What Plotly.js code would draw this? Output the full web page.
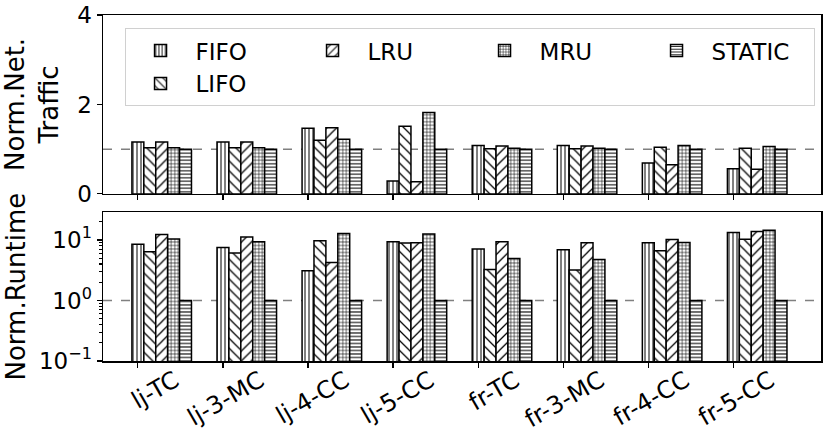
<!DOCTYPE html>
<html>
<head>
<meta charset="utf-8">
<script src="https://cdn.plot.ly/plotly-3.0.1.min.js"></script>
<style>html,body{margin:0;padding:0;background:#fff;}#chart{width:831px;height:442px;}</style>
</head>
<body>
<div id="chart"></div>
<script>
const categories = ['lj-TC','lj-3-MC','lj-4-CC','lj-5-CC','fr-TC','fr-3-MC','fr-4-CC','fr-5-CC'];
const policies = ['FIFO','LIFO','LRU','MRU','STATIC'];
const legendRanks = [1,5,2,3,4];

const trafficFIFO   = [1.16,1.16,1.47,0.29,1.08,1.08,0.69,0.56];
const trafficLIFO   = [1.03,1.03,1.20,1.51,1.01,1.01,1.04,1.02];
const trafficLRU    = [1.16,1.16,1.48,0.27,1.07,1.07,0.65,0.55];
const trafficMRU    = [1.03,1.03,1.22,1.82,1.02,1.02,1.08,1.06];
const trafficSTATIC = [1.00,1.00,1.00,1.00,1.00,1.00,1.00,1.00];

const runtimeFIFO   = [8.5,7.5,3.1,9.3,7.1,6.9,8.95,13.3];
const runtimeLIFO   = [6.4,6.1,9.7,8.9,3.25,3.2,6.6,10.3];
const runtimeLRU    = [12.3,11.2,4.25,8.95,9.3,8.95,10.2,13.8];
const runtimeMRU    = [10.4,9.3,12.8,12.5,4.95,4.76,9.1,14.4];
const runtimeSTATIC = [1,1,1,1,1,1,1,1];

const yTickTop = [0,2,4];
const yTickBot = [0.1,1,10];
const yTickBotText = ['10<sup>\u22121</sup>','10<sup>0</sup>','10<sup>1</sup>'];

const traffic = [trafficFIFO,trafficLIFO,trafficLRU,trafficMRU,trafficSTATIC];
const runtime = [runtimeFIFO,runtimeLIFO,runtimeLRU,runtimeMRU,runtimeSTATIC];

const patterns = [
  {shape:'|', size:4, solidity:0.25},
  {shape:'\\', size:7, solidity:0.18},
  {shape:'/', size:7, solidity:0.18},
  {shape:'+', size:3.5, solidity:0.3},
  {shape:'-', size:3.5, solidity:0.3}
];

const barW = 0.14;
const FONT = 'DejaVu Sans, sans-serif';
const traces = [];
policies.forEach((p,k)=>{
  const xs = categories.map((c,i)=> i + k*barW);
  const pat = Object.assign({fgcolor:'#000', bgcolor:'#fff', fillmode:'replace'}, patterns[k]);
  traces.push({type:'bar', name:p, x:xs, y:traffic[k], width:barW, xaxis:'x', yaxis:'y',
    marker:{color:'#fff', pattern:pat, line:{color:'#000', width:1.5}}, legendgroup:p,
    legendrank:legendRanks[k], showlegend:true});
  traces.push({type:'bar', name:p, x:xs, y:runtime[k], width:barW, xaxis:'x2', yaxis:'y2',
    marker:{color:'#fff', pattern:pat, line:{color:'#000', width:1.5}}, legendgroup:p, showlegend:false});
});

const axBase = {showline:true, linecolor:'#000', linewidth:1.5, mirror:true, ticks:'outside',
  ticklen:5, tickwidth:1.2, tickcolor:'#000', showgrid:false, zeroline:false,
  tickfont:{family:FONT, size:23, color:'#000'}};
const xRange = [-0.41, 8.03];
const tickIdx = categories.map((c,i)=>i);

const layout = {
  width:831, height:442,
  margin:{l:103, r:10, t:15, b:81},
  paper_bgcolor:'#fff', plot_bgcolor:'#fff',
  barmode:'overlay',
  font:{family:FONT, color:'#000'},
  xaxis: Object.assign({}, axBase, {domain:[0,1], anchor:'y', range:xRange, tickvals:tickIdx, showticklabels:false}),
  yaxis: Object.assign({}, axBase, {domain:[0.483,1], anchor:'x', range:[0,4], tickvals:yTickTop,
    title:{text:'Norm.Net.<br>Traffic', font:{family:FONT, size:26, color:'#000'}, standoff:12}}),
  xaxis2: Object.assign({}, axBase, {domain:[0,1], anchor:'y2', range:xRange, tickvals:tickIdx, ticktext:categories,
    tickangle:-30, ticklabelshift:37, ticklabelstandoff:-10, tickfont:{family:FONT, size:24, color:'#000'}}),
  yaxis2: Object.assign({}, axBase, {domain:[0,0.43], anchor:'x2', type:'log', range:[-1,1.458],
    tickvals:yTickBot, ticktext:yTickBotText,
    minor:{ticks:'outside', ticklen:3, tickcolor:'#000', dtick:'D1', showgrid:false},
    title:{text:'Norm.Runtime', font:{family:FONT, size:26, color:'#000'}, standoff:6}}),
  legend:{orientation:'h', x:0.03, y:0.962, xanchor:'left', yanchor:'top',
    entrywidth:97, entrywidthmode:'pixels', itemwidth:60,
    font:{family:FONT, size:23, color:'#000'}, bgcolor:'rgba(255,255,255,0.8)',
    bordercolor:'#d0d0d0', borderwidth:1, traceorder:'normal'},
  shapes:[
    {type:'line', xref:'x domain', x0:0, x1:1, yref:'y', y0:1, y1:1, layer:'below',
      line:{color:'#808080', width:1.5, dash:'dash'}},
    {type:'line', xref:'x2 domain', x0:0, x1:1, yref:'y2', y0:1, y1:1, layer:'below',
      line:{color:'#808080', width:1.5, dash:'dash'}}
  ]
};

Plotly.newPlot('chart', traces, layout, {displayModeBar:false, staticPlot:true});
</script>
</body>
</html>
